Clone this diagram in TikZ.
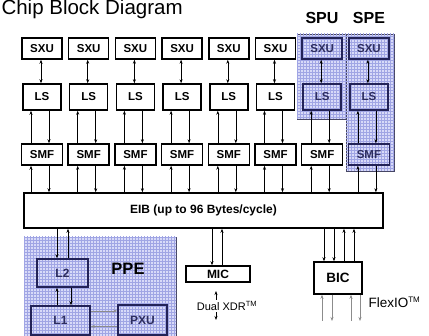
\documentclass[tikz,border=0pt]{standalone}
\usepackage{fontspec}
\setmainfont{Liberation Sans}
\usepackage{xcolor}
\usetikzlibrary{arrows.meta,patterns}

\definecolor{shadeblue}{RGB}{216,218,248}
\definecolor{gridblue}{RGB}{160,165,228}
\definecolor{regionline}{RGB}{70,70,100}
\definecolor{navyline}{RGB}{35,35,88}
\definecolor{navytext}{RGB}{45,45,95}

\begin{document}
\begin{tikzpicture}[x=1pt, y=-1pt, >={Stealth[length=4pt, width=3pt]},
    unit/.style={draw, line width=1.5pt, fill=white, inner sep=0pt,
        font=\bfseries\fontsize{11.5}{13}\selectfont},
    spuunit/.style={unit, draw=navyline, fill=none, text=navytext},
    link/.style={line width=0.6pt},
    greylink/.style={link, black!45},
    region/.style={fill=shadeblue, draw=regionline, line width=0.6pt}]

    \clip (0,0) rectangle (429,336);

    % shaded regions
    \filldraw[region] (297,34) rectangle (347,119);
    \fill[pattern=grid, pattern color=gridblue] (297,34) rectangle (347,119);
    \filldraw[region] (346,34) rectangle (394,171);
    \fill[pattern=grid, pattern color=gridblue] (346,34) rectangle (394,171);
    \filldraw[region] (24,237) rectangle (176,345);
    \fill[pattern=grid, pattern color=gridblue] (24,237) rectangle (176,345);

    \node[anchor=base west, font=\fontsize{20.5}{22}\selectfont] (title) at (-2,15) {Chip Block Diagram};
    \node[font=\bfseries\fontsize{16}{18}\selectfont] (spu) at (322,18) {SPU};
    \node[font=\bfseries\fontsize{16}{18}\selectfont] (spe) at (369,18) {SPE};

    % the eight columns
    \foreach \i/\up/\low in {1/unit/unit, 2/unit/unit, 3/unit/unit, 4/unit/unit,
                             5/unit/unit, 6/unit/unit, 7/spuunit/unit, 8/spuunit/spuunit} {
        \pgfmathsetmacro\cx{42+46.7*(\i-1)}
        \node[\up, minimum width=40pt, minimum height=21pt] (sxu\i) at (\cx,48.5) {SXU};
        \node[\up, minimum width=38pt, minimum height=26pt] (ls\i) at (\cx,97) {LS};
        \node[\low, minimum width=41pt, minimum height=21pt] (smf\i) at (\cx,154.5) {SMF};
    }

    \node[unit, minimum width=359pt, minimum height=35pt, font=\bfseries\fontsize{12}{14}\selectfont] (eib) at (203.5,210.5) {EIB (up to 96 Bytes/cycle)};

    \foreach \i in {1,...,8} {
        \draw[link, <->] ([xshift=-1pt]sxu\i.south) -- ([xshift=-1pt]ls\i.north);
        \draw[link, ->] ([xshift=-11pt]smf\i.north) -- ([xshift=-11pt]ls\i.south);
        \draw[link, ->] ([xshift=7pt]ls\i.south) -- ([xshift=7pt]smf\i.north);
        \draw[link, ->] ([xshift=-11pt]smf\i.south |- eib.north) -- ([xshift=-11pt]smf\i.south);
        \draw[link, ->] ([xshift=7pt]smf\i.south) -- ([xshift=7pt]smf\i.south |- eib.north);
    }

    % PPE
    \node[font=\bfseries\fontsize{16.5}{18}\selectfont] (ppe) at (128,269) {PPE};
    \node[spuunit, minimum width=51pt, minimum height=28pt, font=\bfseries\fontsize{12}{13}\selectfont] (ltwo) at (62.5,273) {L2};
    \node[spuunit, minimum width=59pt, minimum height=29pt, font=\bfseries\fontsize{12}{13}\selectfont] (lone) at (60.5,320.5) {L1};
    \node[spuunit, minimum width=49pt, minimum height=30pt, font=\bfseries\fontsize{12}{13}\selectfont] (pxu) at (142.5,320) {PXU};

    \draw[link, ->] ([xshift=-5.5pt]ltwo.north |- eib.south) -- ([xshift=-5.5pt]ltwo.north);
    \draw[link, ->] ([xshift=5.5pt]ltwo.north) -- ([xshift=5.5pt]ltwo.north |- eib.south);
    \draw[link, ->] ([xshift=-5.5pt]ltwo.south |- lone.north) -- ([xshift=-5.5pt]ltwo.south);
    \draw[link, ->] ([xshift=8.5pt]ltwo.south) -- ([xshift=8.5pt]ltwo.south |- lone.north);
    \draw[greylink, ->] ([yshift=9.5pt]lone.east) -- ([yshift=9.5pt]lone.east -| pxu.west);
    \draw[greylink, ->] ([yshift=-6.5pt]pxu.west) -- ([yshift=-6.5pt]pxu.west -| lone.east);

    % MIC
    \node[unit, minimum width=64pt, minimum height=16pt, font=\bfseries\fontsize{12}{13}\selectfont] (mic) at (218,274) {MIC};
    \draw[link, ->] ([xshift=-6pt]mic.north |- eib.south) -- ([xshift=-6pt]mic.north);
    \draw[link, ->] ([xshift=4pt]mic.north) -- ([xshift=4pt]mic.north |- eib.south);
    \coordinate (xdrtop) at (216,291);
    \coordinate (xdrbot) at (216,320);
    \draw[link, <->] (xdrtop) -- (xdrbot);
    \node[fill=white, inner sep=1pt, font=\fontsize{11}{12}\selectfont] (xdr) at (227,306)
        {Dual XDR\textsuperscript{\fontsize{7.5}{7.5}\selectfont TM}};

    % BIC
    \node[unit, minimum width=48pt, minimum height=32pt, font=\bfseries\fontsize{13.5}{15}\selectfont] (bic) at (338,278) {BIC};
    \foreach \dx in {-14,-4}
        \draw[link, ->] ([xshift=\dx pt]bic.north |- eib.south) -- ([xshift=\dx pt]bic.north);
    \foreach \dx in {6,16}
        \draw[link, ->] ([xshift=\dx pt]bic.north) -- ([xshift=\dx pt]bic.north |- eib.south);
    \coordinate (flexend) at (338,321);
    \foreach \dx in {-16,13}
        \draw[greylink, ->] ([xshift=\dx pt]bic.south |- flexend) -- ([xshift=\dx pt]bic.south);
    \foreach \dx in {-6,22}
        \draw[greylink, ->] ([xshift=\dx pt]bic.south) -- ([xshift=\dx pt]bic.south |- flexend);
    \node[anchor=west, font=\fontsize{13.5}{15}\selectfont] (flexio) at (365,302)
        {FlexIO\textsuperscript{\fontsize{8}{8}\selectfont TM}};
\end{tikzpicture}
\end{document}
